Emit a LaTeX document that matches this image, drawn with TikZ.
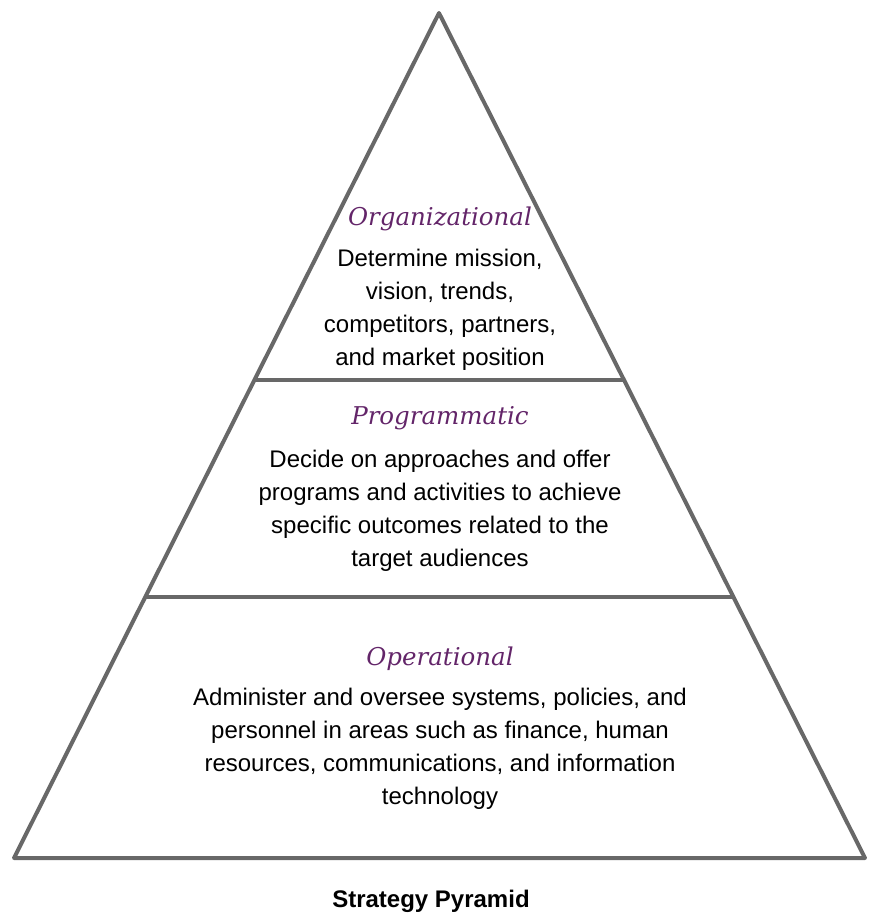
\documentclass[tikz,border=0pt]{standalone}
\usepackage{fontspec}
\setmainfont{Liberation Sans}
\newfontfamily\tierfont{DejaVu Serif}
\usetikzlibrary{calc}
\definecolor{tierpurple}{RGB}{99,37,105}
\definecolor{edgegray}{RGB}{104,104,104}

\begin{document}
\begin{tikzpicture}[x=1pt,y=-1pt,
    tiertitle/.style={font=\tierfont\itshape\fontsize{24.5}{28}\selectfont, text=tierpurple, inner sep=0pt, anchor=base},
    tiertext/.style={font=\fontsize{24}{33}\selectfont, align=center, inner sep=0pt, anchor=north},
    edge/.style={draw=edgegray, line width=4pt, line join=round}]
    \useasboundingbox (0,0) rectangle (870,914);
    % outline of the pyramid
    \coordinate (apex) at (439,13);
    \coordinate (bl) at (14,858);
    \coordinate (br) at (865,858);
    \draw[edge] (apex) -- (br) -- (bl) -- cycle;
    \foreach \f in {0.434, 0.691}
        \draw[edge] ($(apex)!\f!(bl)$) -- ($(apex)!\f!(br)$);
    % tiers
    \node[tiertitle] (orgtitle) at (440,225) {Organizational};
    \node[tiertext] (orgtext) at (440,248.5) {Determine mission,\\ vision, trends,\\ competitors, partners,\\ and market position};
    \node[tiertitle] (progtitle) at (440,424) {Programmatic};
    \node[tiertext] (progtext) at (440,449.5) {Decide on approaches and offer\\ programs and activities to achieve\\ specific outcomes related to the\\ target audiences};
    \node[tiertitle] (optitle) at (440,665) {Operational};
    \node[tiertext] (optext) at (440,687.5) {Administer and oversee systems, policies, and\\ personnel in areas such as finance, human\\ resources, communications, and information\\ technology};
    \node[font=\bfseries\fontsize{24}{27}\selectfont, anchor=base] (caption) at (431,907) {Strategy Pyramid};
\end{tikzpicture}
\end{document}
